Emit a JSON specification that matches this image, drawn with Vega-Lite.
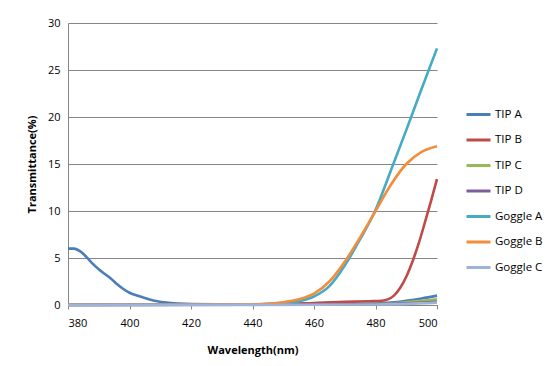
{
  "$schema": "https://vega.github.io/schema/vega-lite/v6.json",
  "autosize": "none",
  "width": 369,
  "height": 282,
  "padding": {"left": 68, "top": 23, "right": 114, "bottom": 61},
  "background": "white",
  "config": {
    "view": {"stroke": null},
    "font": "Open Sans",
    "axis": {"labelFont": "Open Sans", "titleFont": "Open Sans", "labelColor": "#000", "titleColor": "#000"}
  },
  "data": {
    "values": [
      {"s": "TIP A", "w": 380, "t": 6.0}, {"s": "TIP A", "w": 382, "t": 6.0}, {"s": "TIP A", "w": 384, "t": 5.7}, {"s": "TIP A", "w": 386, "t": 5.1}, {"s": "TIP A", "w": 388, "t": 4.4}, {"s": "TIP A", "w": 390, "t": 3.8}, {"s": "TIP A", "w": 392, "t": 3.3}, {"s": "TIP A", "w": 394, "t": 2.8}, {"s": "TIP A", "w": 396, "t": 2.2}, {"s": "TIP A", "w": 398, "t": 1.7}, {"s": "TIP A", "w": 400, "t": 1.3}, {"s": "TIP A", "w": 403, "t": 0.95}, {"s": "TIP A", "w": 406, "t": 0.65}, {"s": "TIP A", "w": 409, "t": 0.4}, {"s": "TIP A", "w": 412, "t": 0.25}, {"s": "TIP A", "w": 416, "t": 0.15}, {"s": "TIP A", "w": 420, "t": 0.1}, {"s": "TIP A", "w": 430, "t": 0.07}, {"s": "TIP A", "w": 440, "t": 0.06}, {"s": "TIP A", "w": 450, "t": 0.06}, {"s": "TIP A", "w": 460, "t": 0.07}, {"s": "TIP A", "w": 470, "t": 0.1}, {"s": "TIP A", "w": 480, "t": 0.15}, {"s": "TIP A", "w": 485, "t": 0.25}, {"s": "TIP A", "w": 490, "t": 0.45}, {"s": "TIP A", "w": 495, "t": 0.7}, {"s": "TIP A", "w": 500, "t": 1.0},
      {"s": "TIP B", "w": 380, "t": 0.02}, {"s": "TIP B", "w": 420, "t": 0.02}, {"s": "TIP B", "w": 440, "t": 0.05}, {"s": "TIP B", "w": 450, "t": 0.1}, {"s": "TIP B", "w": 460, "t": 0.22}, {"s": "TIP B", "w": 470, "t": 0.33}, {"s": "TIP B", "w": 478, "t": 0.4}, {"s": "TIP B", "w": 482, "t": 0.45}, {"s": "TIP B", "w": 484, "t": 0.6}, {"s": "TIP B", "w": 486, "t": 1.0}, {"s": "TIP B", "w": 488, "t": 1.8}, {"s": "TIP B", "w": 490, "t": 3.0}, {"s": "TIP B", "w": 492, "t": 4.6}, {"s": "TIP B", "w": 494, "t": 6.5}, {"s": "TIP B", "w": 496, "t": 8.7}, {"s": "TIP B", "w": 498, "t": 11.0}, {"s": "TIP B", "w": 500, "t": 13.4},
      {"s": "TIP C", "w": 380, "t": 0.0}, {"s": "TIP C", "w": 440, "t": 0.02}, {"s": "TIP C", "w": 460, "t": 0.05}, {"s": "TIP C", "w": 480, "t": 0.12}, {"s": "TIP C", "w": 490, "t": 0.3}, {"s": "TIP C", "w": 500, "t": 0.6},
      {"s": "TIP D", "w": 380, "t": 0.0}, {"s": "TIP D", "w": 440, "t": 0.02}, {"s": "TIP D", "w": 460, "t": 0.05}, {"s": "TIP D", "w": 480, "t": 0.1}, {"s": "TIP D", "w": 490, "t": 0.18}, {"s": "TIP D", "w": 500, "t": 0.35},
      {"s": "Goggle A", "w": 380, "t": 0.0}, {"s": "Goggle A", "w": 420, "t": 0.02}, {"s": "Goggle A", "w": 440, "t": 0.05}, {"s": "Goggle A", "w": 445, "t": 0.1}, {"s": "Goggle A", "w": 450, "t": 0.2}, {"s": "Goggle A", "w": 455, "t": 0.4}, {"s": "Goggle A", "w": 460, "t": 0.9}, {"s": "Goggle A", "w": 465, "t": 2.0}, {"s": "Goggle A", "w": 470, "t": 4.2}, {"s": "Goggle A", "w": 475, "t": 7.0}, {"s": "Goggle A", "w": 480, "t": 10.1}, {"s": "Goggle A", "w": 485, "t": 14.3}, {"s": "Goggle A", "w": 490, "t": 18.6}, {"s": "Goggle A", "w": 495, "t": 23.0}, {"s": "Goggle A", "w": 500, "t": 27.3},
      {"s": "Goggle B", "w": 380, "t": 0.0}, {"s": "Goggle B", "w": 420, "t": 0.03}, {"s": "Goggle B", "w": 440, "t": 0.08}, {"s": "Goggle B", "w": 445, "t": 0.15}, {"s": "Goggle B", "w": 450, "t": 0.3}, {"s": "Goggle B", "w": 455, "t": 0.6}, {"s": "Goggle B", "w": 460, "t": 1.2}, {"s": "Goggle B", "w": 465, "t": 2.5}, {"s": "Goggle B", "w": 470, "t": 4.6}, {"s": "Goggle B", "w": 475, "t": 7.2}, {"s": "Goggle B", "w": 480, "t": 10.0}, {"s": "Goggle B", "w": 485, "t": 12.8}, {"s": "Goggle B", "w": 490, "t": 15.0}, {"s": "Goggle B", "w": 495, "t": 16.3}, {"s": "Goggle B", "w": 500, "t": 16.9},
      {"s": "Goggle C", "w": 380, "t": 0.0}, {"s": "Goggle C", "w": 460, "t": 0.02}, {"s": "Goggle C", "w": 480, "t": 0.06}, {"s": "Goggle C", "w": 490, "t": 0.12}, {"s": "Goggle C", "w": 500, "t": 0.25}
    ]
  },
  "mark": {"type": "line", "interpolate": "monotone", "strokeWidth": 2.6},
  "encoding": {
    "x": {
      "field": "w", "type": "quantitative",
      "scale": {"domain": [380, 500], "nice": false, "zero": false},
      "axis": {"values": [380, 400, 420, 440, 460, 480, 500], "grid": false, "title": "Wavelength(nm)", "titleFontSize": 11, "titleFontWeight": "bold", "titlePadding": 16, "labelFontSize": 11, "labelPadding": 8, "tickSize": 4, "tickColor": "#868686", "domainColor": "#868686"}
    },
    "y": {
      "field": "t", "type": "quantitative",
      "scale": {"domain": [0, 30], "nice": false},
      "axis": {"values": [0, 5, 10, 15, 20, 25, 30], "grid": true, "gridColor": "#868686", "title": "Transmittance(%)", "titleFontSize": 11, "titleFontWeight": "bold", "titlePadding": 10, "labelFontSize": 11, "labelPadding": 8, "tickSize": 0, "domainColor": "#868686"}
    },
    "color": {
      "field": "s", "type": "nominal",
      "sort": ["TIP A", "TIP B", "TIP C", "TIP D", "Goggle A", "Goggle B", "Goggle C"],
      "scale": {"domain": ["TIP A", "TIP B", "TIP C", "TIP D", "Goggle A", "Goggle B", "Goggle C"], "range": ["#4A7EBB", "#BE4B48", "#98B954", "#7D5FA0", "#46AAC5", "#F38D3A", "#9DB3D9"]},
      "legend": {"orient": "none", "legendX": 397, "legendY": 78, "title": null, "symbolType": "stroke", "symbolSize": 576, "symbolStrokeWidth": 3, "labelFontSize": 11.5, "labelOffset": 3, "rowPadding": 5.5, "labelFont": "Open Sans", "labelColor": "#000"}
    }
  }
}
